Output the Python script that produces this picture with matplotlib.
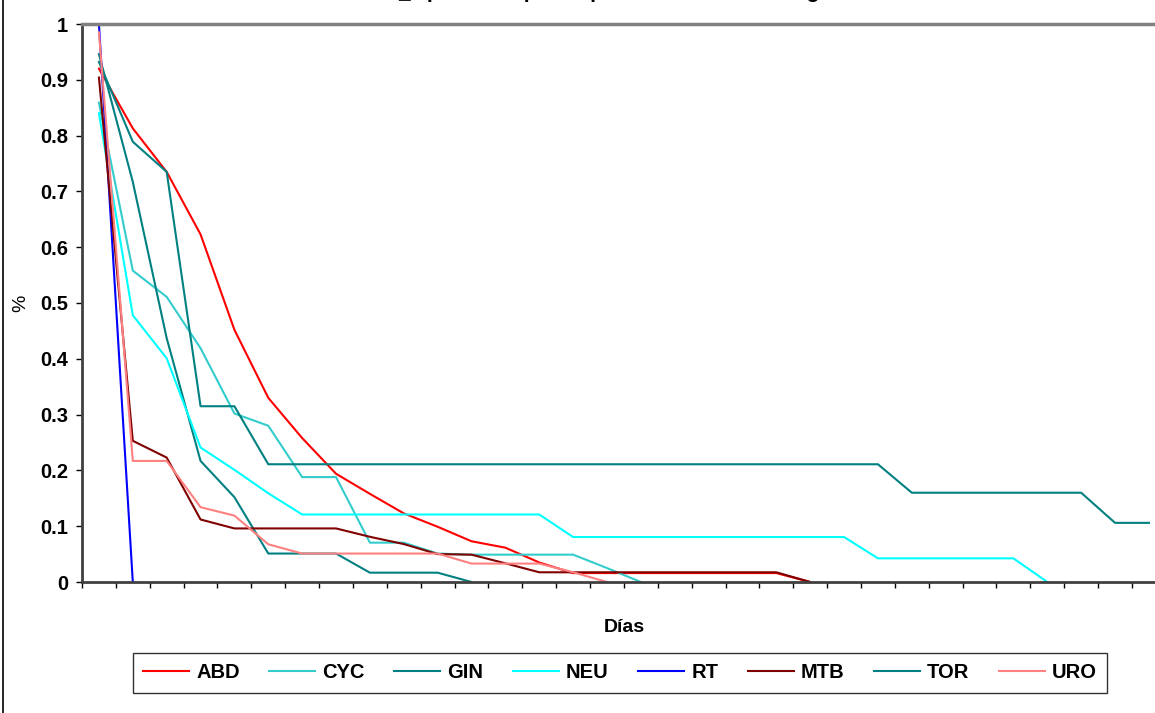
import matplotlib
matplotlib.use('Agg')
import matplotlib.pyplot as plt
from matplotlib.lines import Line2D
import numpy as np

plt.rcParams['font.family'] = ['Liberation Sans', 'DejaVu Sans']

# Datos (fraccion de pacientes que siguen en pre-operatorio por dia)
abd = [0.92, 0.813, 0.735, 0.623, 0.452, 0.330, 0.258, 0.194, 0.158, 0.123, 0.099,
       0.073, 0.0615, 0.035, 0.016, 0.016, 0.016, 0.016, 0.016, 0.016, 0.016, 0]
cyc = [0.859, 0.558, 0.511, 0.419, 0.302, 0.280, 0.188, 0.188, 0.0705, 0.0705, 0.051,
       0.049, 0.049, 0.049, 0.049, 0.025, 0]
gin = [0.946, 0.717, 0.437, 0.217, 0.152, 0.051, 0.051, 0.051, 0.0167, 0.0167, 0.0167, 0]
neu = [0.84, 0.478, 0.401, 0.241, 0.201, 0.159,
       0.121, 0.121, 0.121, 0.121, 0.121, 0.121, 0.121, 0.121,
       0.0806, 0.0806, 0.0806, 0.0806, 0.0806, 0.0806, 0.0806, 0.0806, 0.0806,
       0.0424, 0.0424, 0.0424, 0.0424, 0.0424, 0]
rt = [1.0, 0]
mtb = [0.904, 0.253, 0.223, 0.112, 0.096, 0.096, 0.096, 0.096, 0.081, 0.068, 0.050,
       0.049, 0.0335, 0.0174, 0.0174, 0.0174, 0.0174, 0.0174, 0.0174, 0.0174, 0.0174, 0]
tor = [0.932, 0.789, 0.735, 0.315, 0.315] + [0.211] * 19 + [0.160] * 6 + [0.106, 0.106]
uro = [0.985, 0.217, 0.217, 0.134, 0.119, 0.0676, 0.051, 0.051, 0.051, 0.051, 0.051,
       0.033, 0.033, 0.033, 0.0175, 0]

nombres = ['ABD', 'CYC', 'GIN', 'NEU', 'RT', 'MTB', 'TOR', 'URO']
series = [abd, cyc, gin, neu, rt, mtb, tor, uro]
colores = ['#FF0000', '#33CCCC', '#008080', '#00FFFF', '#0000FF', '#800000', '#008080', '#FF8080']
n_dias = 32

fig = plt.figure(figsize=(11.55, 7.13), dpi=100)
W, H = 1155, 713
x0, x1, y0, y1 = 82, 82 + 33.87 * n_dias, 582, 24
ax = fig.add_axes([x0 / W, (H - y0) / H, (x1 - x0) / W, (y0 - y1) / H])

for nombre, vals, col in zip(nombres, series, colores):
    ax.plot(np.arange(len(vals)), vals, color=col, lw=1.5, label=nombre)

ax.set_xlim(-0.5, n_dias - 0.5)
ax.set_ylim(0, 1)
ax.set_xticks(np.arange(-0.5, n_dias, 1))
ax.set_xticklabels([])
ax.set_yticks(np.arange(0, 1.01, 0.1))
ax.set_yticklabels(['0', '0.1', '0.2', '0.3', '0.4', '0.5', '0.6', '0.7', '0.8', '0.9', '1'],
                   fontsize=14.5, fontweight='bold')
ax.tick_params(axis='both', direction='out', length=4, width=1, color='black', pad=6)

for s in ['left', 'bottom']:
    ax.spines[s].set_color('#404040')
    ax.spines[s].set_linewidth(2)
ax.spines['top'].set_color('#808080')
ax.spines['top'].set_linewidth(2.5)
ax.spines['right'].set_visible(False)

ax.set_xlabel('Días', fontsize=14, fontweight='bold', labelpad=17)
ax.set_ylabel('%', fontsize=14, labelpad=8)

# titulo, cortado por el borde superior como en el original
fig.text(0.51, 1.0 + 2.5 / H, 'Estancias Pre_Operatorio por Departamento Enero a Agosto 2008',
         ha='center', va='baseline', fontsize=15, fontweight='bold')

leg = fig.legend(loc='center', bbox_to_anchor=(620 / W, (H - 673) / H), ncol=8,
                 prop={'size': 14.5, 'weight': 'bold'}, frameon=True, fancybox=False,
                 handlelength=2.3, handletextpad=0.35, columnspacing=1.45,
                 borderpad=0.5, borderaxespad=0)
leg.get_frame().set_edgecolor('black')
leg.get_frame().set_linewidth(1)

# borde izquierdo del area del grafico
fig.add_artist(Line2D([3 / W, 3 / W], [0, 1], color='black', lw=1.2))

fig.savefig('out.png', dpi=100)
